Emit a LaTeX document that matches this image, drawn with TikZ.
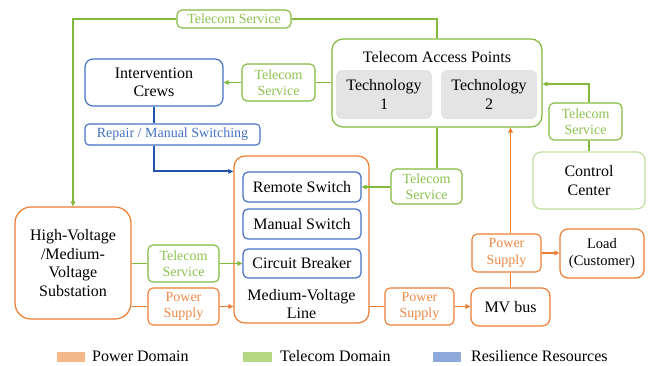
\documentclass[tikz,border=0pt]{standalone}
\usepackage{fontspec}
\setmainfont{Liberation Serif}
\usetikzlibrary{arrows.meta}
\definecolor{gline}{HTML}{82B93C}
\definecolor{gtext}{HTML}{8CC34E}
\definecolor{gctrl}{HTML}{C2DE9F}
\definecolor{oline}{HTML}{ED7D31}
\definecolor{otext}{HTML}{EE8A48}
\definecolor{bline}{HTML}{4472C4}
\definecolor{bdark}{HTML}{1F55AE}
\definecolor{btext}{HTML}{4472C4}
\definecolor{grayfill}{HTML}{E4E4E4}
\definecolor{lorange}{HTML}{F4B98A}
\definecolor{lgreen}{HTML}{B5D883}
\definecolor{lblue}{HTML}{8EAADB}
\tikzset{
  bigbox/.style={draw, line width=1.2pt, rounded corners=11pt, fill=white, align=center, inner sep=0pt, font=\fontsize{16}{18.5}\selectfont},
  bluebox/.style={draw=bline, line width=1.2pt, rounded corners=5pt, fill=white, align=center, inner sep=0pt, font=\fontsize{16}{18.5}\selectfont},
  glabel/.style={draw=gline, line width=1.1pt, rounded corners=5pt, fill=white, text=gtext, align=center, inner sep=0pt, font=\fontsize{14}{16.5}\selectfont},
  olabel/.style={draw=oline, line width=1.1pt, rounded corners=5pt, fill=white, text=otext, align=center, inner sep=0pt, font=\fontsize{14}{16.5}\selectfont},
  techbox/.style={fill=grayfill, rounded corners=6pt, align=center, inner sep=0pt, font=\fontsize{16}{18.5}\selectfont},
  gconn/.style={draw=gline, line width=1.4pt},
  oconn/.style={draw=oline, line width=1.4pt},
  bconn/.style={draw=bdark, line width=1.9pt},
  tip/.style={-{Triangle[length=5pt,width=4.5pt]}},
  legtext/.style={anchor=west, inner sep=0pt, font=\fontsize{16}{18}\selectfont}
}
\begin{document}
\begin{tikzpicture}[x=1pt,y=-1pt]
\useasboundingbox (0,0) rectangle (651,365);
% main boxes
\node[bigbox, draw=gline, minimum width=210, minimum height=88] (tap) at (437,83) {};
\node[font=\fontsize{16}{18}\selectfont, inner sep=0pt] (taptitle) at (437,57) {Telecom Access Points};
\node[techbox, minimum width=96, minimum height=49] (tech1) at (384,94.5) {Technology\\1};
\node[techbox, minimum width=96, minimum height=49] (tech2) at (489,94.5) {Technology\\2};
\node[bluebox, rounded corners=8pt, minimum width=138, minimum height=47] (crews) at (154,82.5) {Intervention\\Crews};
\node[draw=bline, line width=1.1pt, rounded corners=4pt, fill=white, text=btext, inner sep=0pt, minimum width=175, minimum height=21, font=\fontsize{14}{16}\selectfont] (repair) at (172.5,134.5) {Repair / Manual Switching};
\node[bigbox, draw=oline, minimum width=135, minimum height=167] (mvline) at (301.5,239.5) {};
\node[font=\fontsize{16}{18}\selectfont, align=center, inner sep=0pt] (mvtext) at (301.5,304) {Medium-Voltage\\Line};
\node[bluebox, minimum width=118, minimum height=30] (remote) at (302,187) {Remote Switch};
\node[bluebox, minimum width=118, minimum height=30] (manual) at (302,224) {Manual Switch};
\node[bluebox, minimum width=118, minimum height=29] (breaker) at (302,263.5) {Circuit Breaker};
\node[bigbox, draw=oline, rounded corners=16pt, minimum width=116, minimum height=112] (hv) at (73,263) {High-Voltage\\/Medium-\\Voltage\\Substation};
\node[bigbox, draw=gctrl, rounded corners=8pt, minimum width=112, minimum height=57] (control) at (589,180.5) {Control\\Center};
\node[bigbox, draw=oline, rounded corners=8pt, minimum width=79, minimum height=38] (mvbus) at (510.5,307) {MV bus};
\node[bigbox, draw=oline, rounded corners=8pt, minimum width=84, minimum height=49, font=\fontsize{14.5}{17}\selectfont] (load) at (602,253.5) {Load\\(Customer)};
% labels
\node[glabel, minimum width=114, minimum height=18] (tstop) at (234,19) {Telecom Service};
\node[glabel, minimum width=73, minimum height=37] (tscrews) at (278.5,82.5) {Telecom\\Service};
\node[glabel, minimum width=71, minimum height=35] (tsremote) at (426.5,186.5) {Telecom\\Service};
\node[glabel, minimum width=73, minimum height=37] (tsctrl) at (585.5,121.5) {Telecom\\Service};
\node[glabel, minimum width=71, minimum height=37] (tshv) at (183.5,263.5) {Telecom\\Service};
\node[olabel, minimum width=71, minimum height=37] (pshv) at (183.5,306.5) {Power\\Supply};
\node[olabel, minimum width=69, minimum height=37] (psmv) at (419.5,306.5) {Power\\Supply};
\node[olabel, minimum width=69, minimum height=38] (psbus) at (506.5,253) {Power\\Supply};
% green connectors
\draw[gconn] (tap.north) |- (tstop.east);
\draw[gconn, tip] (tstop.west) -| (hv.north);
\draw[gconn] (tap.west |- tscrews.east) -- (tscrews.east);
\draw[gconn, tip] (tscrews.west) -- (crews.east |- tscrews.west);
\draw[gconn] (tap.south) -- (tap.south |- tsremote.north);
\draw[gconn, tip] (tsremote.west |- remote.east) -- (remote.east);
\draw[gconn] (control.north) -- (control.north |- tsctrl.south);
\draw[gconn, tip] (control.north |- tsctrl.north) |- ([yshift=-1pt]tap.east);
\draw[gconn] (hv.east |- tshv.west) -- (tshv.west);
\draw[gconn, tip] (tshv.east) -- (breaker.west |- tshv.east);
% blue connectors
\draw[bconn] (crews.south) -- (crews.south |- repair.north);
\draw[bconn, tip] (crews.south |- repair.south) |- (mvline.west |- remote.north);
% orange connectors
\draw[oconn] (hv.east |- pshv.west) -- (pshv.west);
\draw[oconn, tip] (pshv.east) -- (mvline.west |- pshv.east);
\draw[oconn] (mvline.east |- psmv.west) -- (psmv.west);
\draw[oconn, tip] (psmv.east) -- (mvbus.west |- psmv.east);
\draw[oconn] (mvbus.north) -- (mvbus.north |- psbus.south);
\draw[oconn, tip] (mvbus.north |- psbus.north) -- (mvbus.north |- tap.south);
\draw[oconn, tip] (psbus.east) -- (load.west |- psbus.east);
% legend
\fill[lorange] (57,352) rectangle (85,362);
\node[legtext] (lg1) at (92,356) {Power Domain};
\fill[lgreen] (243,352) rectangle (272,362);
\node[legtext] (lg2) at (280,356) {Telecom Domain};
\fill[lblue] (433,352) rectangle (461,362);
\node[legtext] (lg3) at (471,356) {Resilience Resources};
\end{tikzpicture}
\end{document}
